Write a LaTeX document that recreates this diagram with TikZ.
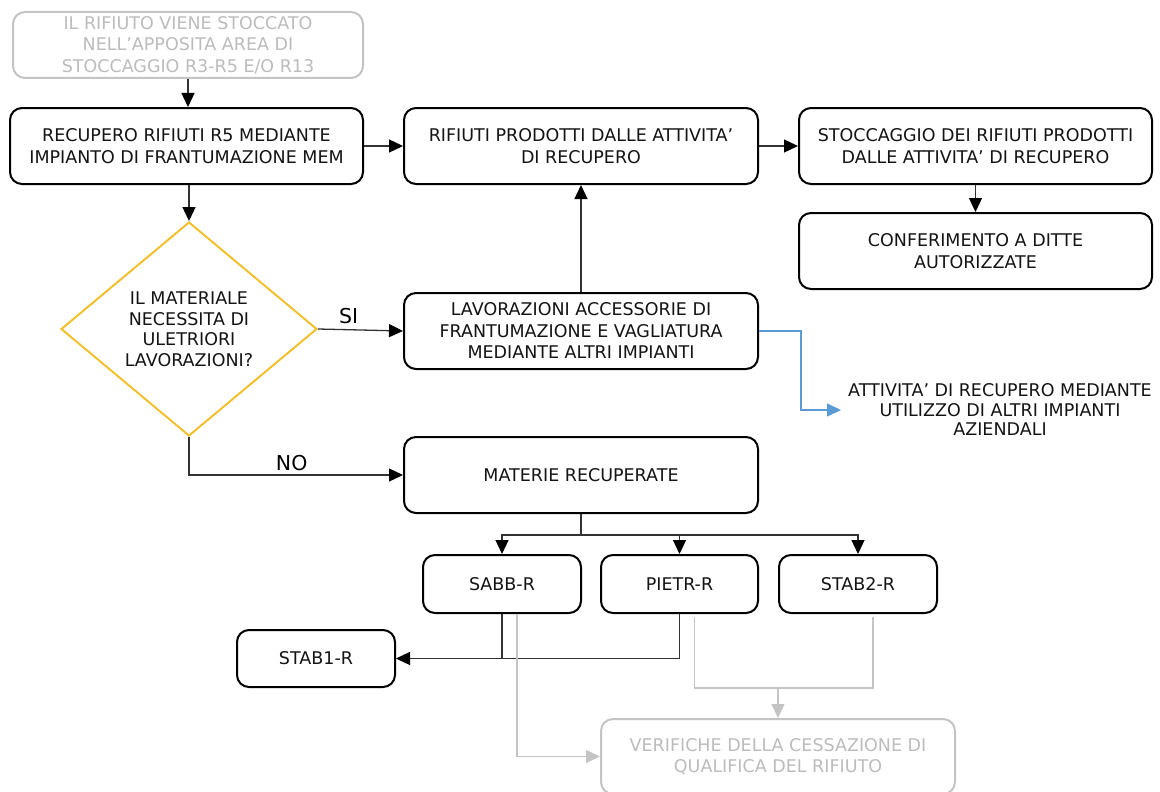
\documentclass[tikz,border=0pt]{standalone}
\usepackage{fontspec}
\setmainfont{DejaVu Sans}
\usetikzlibrary{arrows.meta,shapes.geometric}

\definecolor{ink}{RGB}{20,20,20}
\definecolor{wire}{RGB}{50,50,50}
\definecolor{faded}{RGB}{196,196,196}
\definecolor{fadedtext}{RGB}{188,188,188}
\definecolor{gold}{RGB}{242,192,46}
\definecolor{sky}{RGB}{91,155,213}

\tikzset{
  box/.style={draw=black, line width=2pt, rounded corners=12pt, fill=white,
    text=ink, align=center, inner sep=0pt,
    font=\fontsize{17.5pt}{21.5pt}\selectfont},
  bigbox/.style={box, minimum width=354pt, minimum height=76pt},
  smallbox/.style={box, minimum width=158pt, minimum height=58pt},
  ghostbox/.style={box, draw=faded, text=fadedtext},
  flow/.style={draw=wire, line width=1.3pt,
    -{Triangle[length=14pt,width=13pt,color=black]}},
  plain/.style={draw=wire, line width=1.3pt},
  ghostflow/.style={draw=faded, line width=1.4pt,
    -{Triangle[length=14pt,width=13pt]}},
  ghostline/.style={draw=faded, line width=1.4pt},
  blueflow/.style={draw=sky, line width=1.4pt,
    -{Triangle[length=14pt,width=13pt]}},
  answer/.style={text=black, font=\fontsize{20.5pt}{24pt}\selectfont},
}

\begin{document}
\begin{tikzpicture}[x=1pt, y=-1pt]
\useasboundingbox (0,0) rectangle (1160,792);

% --- boxes -----------------------------------------------------------
\node[ghostbox, minimum width=350pt, minimum height=66pt] (store) at (188,45)
  {IL RIFIUTO VIENE STOCCATO\\NELL’APPOSITA AREA DI\\STOCCAGGIO R3-R5 E/O R13};
\node[bigbox, minimum width=353pt] (rec) at (186.5,146)
  {RECUPERO RIFIUTI R5 MEDIANTE\\IMPIANTO DI FRANTUMAZIONE MEM};
\node[bigbox] (rif) at (581,146)
  {RIFIUTI PRODOTTI DALLE ATTIVITA’\\DI RECUPERO};
\node[bigbox, minimum width=353pt] (sto) at (975.5,146)
  {STOCCAGGIO DEI RIFIUTI PRODOTTI\\DALLE ATTIVITA’ DI RECUPERO};
\node[bigbox, minimum width=353pt] (conf) at (975.5,251)
  {CONFERIMENTO A DITTE\\AUTORIZZATE};
\node[bigbox] (lav) at (581,331)
  {LAVORAZIONI ACCESSORIE DI\\FRANTUMAZIONE E VAGLIATURA\\MEDIANTE ALTRI IMPIANTI};
\node[bigbox] (mat) at (581,475) {MATERIE RECUPERATE};

\node[diamond, draw=gold, line width=2pt, aspect=1.2, inner sep=0pt,
  minimum width=256pt, minimum height=214pt, text=ink, align=center,
  font=\fontsize{17.5pt}{20.5pt}\selectfont] (dia) at (189,329)
  {IL MATERIALE\\NECESSITA DI\\ULETRIORI\\LAVORAZIONI?};

\node[text=ink, align=center, inner sep=0pt,
  font=\fontsize{17.5pt}{19.5pt}\selectfont] (att) at (1000,410)
  {ATTIVITA’ DI RECUPERO MEDIANTE\\UTILIZZO DI ALTRI IMPIANTI\\AZIENDALI};

\node[smallbox] (sabb) at (502,584) {SABB-R};
\node[smallbox, minimum width=157pt] (pietr) at (679.5,584) {PIETR-R};
\node[smallbox] (stab2) at (858,584) {STAB2-R};
\node[smallbox, minimum height=57pt] (stab1) at (316,658.5) {STAB1-R};

\node[ghostbox, minimum width=354pt, minimum height=75pt] (ver) at (778,756.5)
  {VERIFICHE DELLA CESSAZIONE DI\\QUALIFICA DEL RIFIUTO};

% --- main flow -------------------------------------------------------
\draw[flow] (store.south) -- (store.south |- rec.north);
\draw[flow] (rec.east) -- (rif.west);
\draw[flow] (rif.east) -- (sto.west);
\draw[flow] (sto.south) -- (conf.north);
\draw[flow] (dia.north |- rec.south) -- (dia.north);
\draw[flow] (dia.east) -- node[answer, above=2pt, pos=0.36] {SI} (lav.west);
\draw[flow] (lav.north) -- (rif.south);
\draw[blueflow] (lav.east) -- ++(42,0) |- ([xshift=-7pt]att.west);
\draw[flow] (dia.south) |- node[answer, above=0pt, pos=0.74] {NO} (mat.west);

% --- split of the recovered materials --------------------------------
\draw[plain] (mat.south) -- ++(0,21) coordinate (split);
\draw[flow] (split) -| (sabb.north);
\draw[flow] (split) -| (pietr.north);
\draw[flow] (split) -| (stab2.north);

\draw[plain] (sabb.south) -- (sabb.south |- stab1.east);
\draw[flow] (pietr.south) |- (stab1.east);

% --- checks on end-of-waste status -----------------------------------
\draw[ghostflow] ([xshift=15pt]sabb.south) |- (ver.west);
\draw[ghostline] ([xshift=15pt,yshift=-3pt]pietr.south) -- ++(0,71) coordinate (gjoin)
  -| ([xshift=15pt,yshift=-3pt]stab2.south);
\draw[ghostflow] (ver.north |- gjoin) -- (ver.north);
\end{tikzpicture}
\end{document}
